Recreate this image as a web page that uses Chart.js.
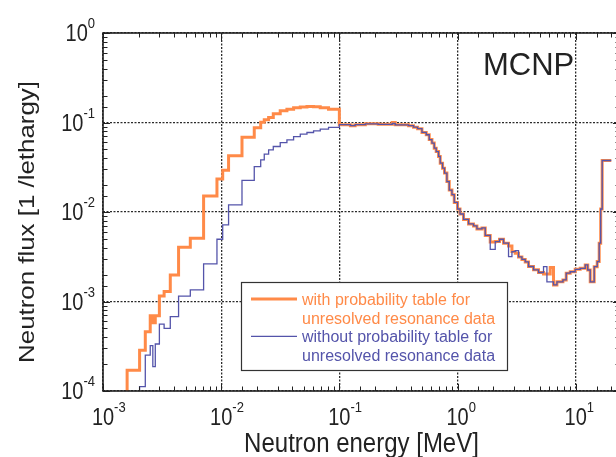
<!DOCTYPE html>
<html>
<head>
<meta charset="utf-8">
<title>Neutron flux - MCNP</title>
<script src="https://cdn.jsdelivr.net/npm/chart.js@4.4.1/dist/chart.umd.min.js"></script>
<style>
  html, body { margin: 0; padding: 0; background: #fff; overflow: hidden; }
  #wrap { width: 616px; height: 457px; overflow: hidden; }
  canvas { display: block; }
</style>
</head>
<body>
<div id="wrap"><canvas id="fluxChart" width="620" height="457"></canvas></div>
<script>
// lower bin edges [MeV], last entry is the upper edge of the last bin
const energyMeV = [
  1.0e-3, 1.6e-3, 2.04e-3, 2.28e-3, 2.51e-3, 2.64e-3, 2.77e-3, 3.0e-3, 3.29e-3, 3.71e-3,
  4.36e-3, 5.48e-3, 7.1e-3, 9.21e-3, 1.03e-2, 1.155e-2, 1.5e-2, 1.905e-2, 2.16e-2, 2.315e-2,
  2.52e-2, 2.76e-2, 3.16e-2, 3.6e-2, 4.1e-2, 4.67e-2, 5.32e-2, 6.05e-2, 6.89e-2, 8.1e-2,
  0.1, 0.124, 0.136, 0.166, 0.213, 0.28, 0.297, 0.385, 0.424, 0.459,
  0.5, 0.5435, 0.576, 0.6075, 0.635, 0.66, 0.691, 0.714, 0.747, 0.776,
  0.813, 0.851, 0.897, 0.938, 1.0, 1.05, 1.124, 1.239, 1.366, 1.459,
  1.609, 1.716, 1.891, 2.084, 2.266, 2.451, 2.701, 2.886, 3.077, 3.281,
  3.506, 3.74, 3.988, 4.395, 4.845, 5.342, 5.706, 6.085, 6.49, 6.935,
  7.796, 8.31, 8.985, 9.9, 10.92, 12.04, 12.64, 13.27, 14.34, 15.2,
  15.8, 16.27, 16.75, 20
];

// flux per lethargy, with probability table
const fluxWithTable = [
  5e-5, 1.71e-4, 2.86e-4, 4.59e-4, 6.93e-4, 5.8e-4, 6.93e-4, 1.15e-3, 1.29e-3, 1.98e-3,
  4.04e-3, 5.09e-3, 1.51e-2, 2.33e-2, 2.92e-2, 4.24e-2, 6.83e-2, 8.72e-2, 0.1005, 0.107,
  0.114, 0.125, 0.135, 0.141, 0.146, 0.149, 0.151, 0.150, 0.146, 0.141,
  0.0942, 0.0921, 0.0945, 0.0967, 0.0953, 0.0999, 0.0942, 0.0921, 0.0887, 0.0853,
  0.0774, 0.073, 0.0644, 0.0589, 0.0517, 0.0473, 0.0418, 0.0351, 0.0309, 0.0272,
  0.0219, 0.0176, 0.0156, 0.0128, 0.0108, 0.0095, 8.26e-3, 7.36e-3, 6.99e-3, 6.47e-3,
  6.64e-3, 5.47e-3, 4.63e-3, 4.67e-3, 4.96e-3, 4.48e-3, 4.18e-3, 3.61e-3, 3.46e-3, 3.15e-3,
  2.95e-3, 2.77e-3, 2.46e-3, 2.26e-3, 2.11e-3, 2.03e-3, 2.03e-3, 2.4e-3, 1.53e-3, 1.66e-3,
  1.74e-3, 2.07e-3, 2.15e-3, 2.29e-3, 2.35e-3, 2.56e-3, 2.25e-3, 1.66e-3, 2.45e-3, 2.79e-3,
  4.48e-3, 1.08e-2, 3.76e-2, 3.76e-2
];

// flux per lethargy, without probability table
const fluxWithoutTable = [
  5e-5, 6e-5, 1.12e-4, 2.52e-4, 3.21e-4, 1.87e-4, 3.35e-4, 5.6e-4, 5.0e-4, 6.76e-4,
  1.15e-3, 1.35e-3, 2.63e-3, 4.96e-3, 7.18e-3, 1.2e-2, 2.26e-2, 3.22e-2, 3.83e-2, 4.43e-2,
  4.95e-2, 5.39e-2, 5.97e-2, 6.41e-2, 6.97e-2, 7.41e-2, 7.73e-2, 8.07e-2, 8.44e-2, 8.8e-2,
  0.0945, 0.0925, 0.0945, 0.0967, 0.0953, 0.0975, 0.0942, 0.0921, 0.0887, 0.0853,
  0.0774, 0.073, 0.0644, 0.0589, 0.0517, 0.0473, 0.0418, 0.0351, 0.0309, 0.0272,
  0.0219, 0.0176, 0.0156, 0.0128, 0.0108, 0.0095, 8.26e-3, 7.36e-3, 6.99e-3, 6.47e-3,
  6.64e-3, 5.47e-3, 3.82e-3, 4.67e-3, 4.96e-3, 4.48e-3, 3.17e-3, 3.61e-3, 3.7e-3, 3.15e-3,
  2.95e-3, 2.77e-3, 2.46e-3, 2.26e-3, 2.11e-3, 2.45e-3, 1.66e-3, 1.66e-3, 1.53e-3, 1.66e-3,
  1.74e-3, 2.07e-3, 2.15e-3, 2.29e-3, 2.35e-3, 2.56e-3, 2.25e-3, 1.66e-3, 2.45e-3, 2.79e-3,
  4.48e-3, 1.08e-2, 3.76e-2, 3.76e-2
];

const legendWith = ['with probability table for', 'unresolved resonance data'];
const legendWithout = ['without probability table for', 'unresolved resonance data'];
const xTickExp = [-3, -2, -1, 0, 1];
const yTickExp = [0, -1, -2, -3, -4];
const xTitle = 'Neutron energy [MeV]';
const yTitle = 'Neutron flux [1 /lethargy]';
const codeLabel = 'MCNP';

const ORANGE = '#ff8a48';
const BLUE = '#5454aa';
const INK = '#222';
const FAMILY = '"Liberation Sans", Arial, Helvetica, sans-serif';
const SY = 1.15; // the source figure is a bit taller than wide

function isDecade(v) {
  const l = Math.log10(v);
  return Math.abs(l - Math.round(l)) < 1e-6;
}

function text(ctx, str, x, y, size, align, sy, color) {
  ctx.save();
  ctx.translate(x, y);
  ctx.scale(1, sy);
  ctx.font = size + 'px ' + FAMILY;
  ctx.textAlign = align;
  ctx.textBaseline = 'alphabetic';
  ctx.fillStyle = color || INK;
  ctx.fillText(str, 0, 0);
  ctx.restore();
}

// "10" with a raised exponent; mode 'center' puts "10" on x, 'right' ends the label at x
function power(ctx, exp, x, base, mode) {
  ctx.font = '20px ' + FAMILY;
  const w10 = ctx.measureText('10').width;
  ctx.font = '13px ' + FAMILY;
  const wE = ctx.measureText(String(exp)).width;
  const left = mode === 'center' ? x - w10 / 2 : x - w10 - wE;
  text(ctx, '10', left, base, 20, 'left', SY);
  text(ctx, String(exp), left + w10, base - 13, 13, 'left', SY);
}

const decorations = {
  id: 'decorations',
  afterDraw(chart) {
    const { ctx, chartArea: a, scales: { x, y } } = chart;
    ctx.save();

    // inward tick marks on all sides
    ctx.strokeStyle = INK;
    ctx.lineWidth = 1;
    ctx.beginPath();
    x.ticks.forEach(t => {
      const px = Math.round(x.getPixelForValue(t.value)) + 0.5;
      const len = isDecade(t.value) ? 7 : 4.5;
      ctx.moveTo(px, a.bottom); ctx.lineTo(px, a.bottom - len);
      ctx.moveTo(px, a.top); ctx.lineTo(px, a.top + len);
    });
    y.ticks.forEach(t => {
      const py = Math.round(y.getPixelForValue(t.value)) + 0.5;
      const len = isDecade(t.value) ? 7 : 4.5;
      ctx.moveTo(a.left, py); ctx.lineTo(a.left + len, py);
      ctx.moveTo(a.right, py); ctx.lineTo(a.right - len, py);
    });
    ctx.stroke();

    ctx.lineWidth = 1.6;
    ctx.strokeRect(a.left, a.top, a.right - a.left, a.bottom - a.top);

    // tick labels
    xTickExp.forEach(e => power(ctx, e, x.getPixelForValue(Math.pow(10, e)), a.bottom + 34, 'center'));
    yTickExp.forEach(e => power(ctx, e, a.left - 8, y.getPixelForValue(Math.pow(10, e)) + 8, 'right'));

    // axis titles
    text(ctx, xTitle, 361.5, 451.5, 24, 'center', SY);
    ctx.save();
    ctx.translate(34, 222);
    ctx.rotate(-Math.PI / 2);
    ctx.scale(SY, 1);
    ctx.font = '22.5px ' + FAMILY;
    ctx.textAlign = 'center';
    ctx.fillStyle = INK;
    ctx.fillText(yTitle, 0, 0);
    ctx.restore();

    text(ctx, codeLabel, 483, 75, 31, 'left', 1.03);

    // legend box
    const bx = 241.5, by = 282.5, bw = 266, bh = 88;
    ctx.fillStyle = '#fff';
    ctx.fillRect(bx, by, bw, bh);
    ctx.strokeStyle = '#333';
    ctx.lineWidth = 1.2;
    ctx.strokeRect(bx, by, bw, bh);
    const ds = chart.data.datasets;
    [[legendWith, 299], [legendWithout, 336.3]].forEach(([lines, cy], i) => {
      ctx.strokeStyle = ds[i].borderColor;
      ctx.lineWidth = ds[i].borderWidth;
      ctx.beginPath();
      ctx.moveTo(251, cy); ctx.lineTo(297, cy);
      ctx.stroke();
      lines.forEach((s, k) => text(ctx, s, 302, cy + 6 + k * 18.7, 16, 'left', 1.08, ds[i].borderColor));
    });

    ctx.restore();
  }
};

const gridStyle = {
  color: c => (c.tick && isDecade(c.tick.value)) ? 'rgba(20,20,20,0.9)' : 'rgba(0,0,0,0)',
  lineWidth: 1.3,
  drawTicks: false
};

new Chart(document.getElementById('fluxChart'), {
  type: 'line',
  data: {
    datasets: [
      {
        label: legendWith.join(' '),
        data: energyMeV.map((e, i) => ({ x: e, y: fluxWithTable[i] })),
        borderColor: ORANGE,
        borderWidth: 3,
        stepped: 'before',
        pointRadius: 0,
        fill: false,
        order: 2
      },
      {
        label: legendWithout.join(' '),
        data: energyMeV.map((e, i) => ({ x: e, y: fluxWithoutTable[i] })),
        borderColor: BLUE,
        borderWidth: 1.3,
        stepped: 'before',
        pointRadius: 0,
        fill: false,
        order: 1
      }
    ]
  },
  options: {
    responsive: false,
    animation: false,
    devicePixelRatio: 1,
    layout: { padding: { top: 33, left: 0, right: 0, bottom: 0 } },
    plugins: { legend: { display: false }, tooltip: { enabled: false } },
    scales: {
      x: {
        type: 'logarithmic',
        min: 1e-3,
        max: 23.7,
        ticks: { display: false },
        grid: gridStyle,
        border: { display: false, dash: [2, 1.5] },
        afterFit: s => { s.height = 66; }
      },
      y: {
        type: 'logarithmic',
        min: 1e-4,
        max: 1,
        ticks: { display: false },
        grid: gridStyle,
        border: { display: false, dash: [2, 1.5] },
        afterFit: s => { s.width = 103; }
      }
    }
  },
  plugins: [decorations]
});
</script>
</body>
</html>
